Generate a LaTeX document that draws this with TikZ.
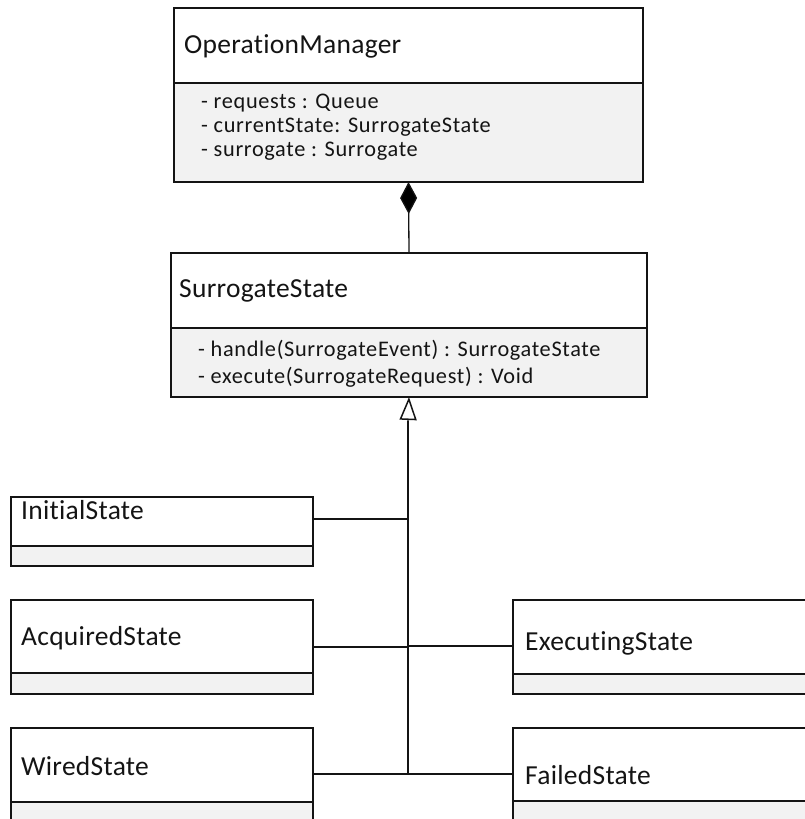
\documentclass[tikz,border=0pt]{standalone}
\usepackage{fontspec}
\setmainfont{Carlito}[Ligatures=NoCommon]
\newfontfamily\classfont{Carlito}[Ligatures=NoCommon, LetterSpace=1]
\newfontfamily\memberfont{Carlito}[Ligatures=NoCommon, LetterSpace=3]
\usetikzlibrary{arrows.meta,calc}
\definecolor{compfill}{HTML}{F2F2F2}
\definecolor{edge}{HTML}{141414}
\tikzset{
  hdr/.style={draw=edge, fill=white, line width=1.2pt, anchor=north west, inner sep=0pt, outer sep=0pt},
  comp/.style={draw=edge, fill=compfill, line width=1.2pt, anchor=north west, inner sep=0pt, outer sep=0pt},
  ttl/.style={anchor=west, inner sep=0pt, text=edge, font=\classfont\fontsize{27.5}{31}\selectfont},
  attr/.style={anchor=west, inner sep=0pt, text=edge, font=\memberfont\fontsize{22.3}{26}\selectfont},
  link/.style={draw=edge, line width=1.3pt},
}
\begin{document}
\begin{tikzpicture}[x=1pt,y=-1pt]
\useasboundingbox (0,0) rectangle (805,819);
\clip (0,0) rectangle (805,819);

% OperationManager
\node[hdr, minimum width=469pt, minimum height=75pt] (om) at (174,8) {};
\node[comp, minimum width=469pt, minimum height=99pt] (omattr) at (174,83) {};
\node[ttl] (omtitle) at (184,46) {OperationManager};
\node[attr] (oma1) at (201,103) {- requests : Queue};
\node[attr] (oma2) at (201,127) {- currentState: SurrogateState};
\node[attr] (oma3) at (201,151) {- surrogate : Surrogate};

% SurrogateState
\node[hdr, minimum width=476pt, minimum height=75pt] (ss) at (171,253) {};
\node[comp, minimum width=476pt, minimum height=69pt] (ssattr) at (171,328) {};
\node[ttl] (sstitle) at (179,291) {SurrogateState};
\node[attr] (ssa1) at (198,350) {- handle(SurrogateEvent) : SurrogateState};
\node[attr] (ssa2) at (198,377) {- execute(SurrogateRequest) : Void};

% concrete states, left column
\node[hdr, minimum width=302pt, minimum height=49pt] (init) at (11,497) {};
\node[comp, minimum width=302pt, minimum height=20pt] (initc) at (11,546) {};
\node[ttl] (inittitle) at (21,510) {InitialState};

\node[hdr, minimum width=302pt, minimum height=73pt] (acq) at (11,600) {};
\node[comp, minimum width=302pt, minimum height=21pt] (acqc) at (11,673) {};
\node[ttl] (acqtitle) at (21,638) {AcquiredState};

\node[hdr, minimum width=302pt, minimum height=74pt] (wir) at (11,728) {};
\node[comp, minimum width=302pt, minimum height=40pt] (wirc) at (11,802) {};
\node[ttl] (wirtitle) at (21,766) {WiredState};

% concrete states, right column
\node[hdr, minimum width=320pt, minimum height=74pt] (exe) at (513,600) {};
\node[comp, minimum width=320pt, minimum height=20pt] (exec) at (513,674) {};
\node[ttl] (exetitle) at (525,643) {ExecutingState};

\node[hdr, minimum width=320pt, minimum height=73pt] (fai) at (513,728) {};
\node[comp, minimum width=320pt, minimum height=40pt] (faic) at (513,801) {};
\node[ttl] (faititle) at (525,775) {FailedState};

% composition
\draw[link, {Diamond[length=32pt,width=17pt,fill=black]}-] (omattr.south) -- (ss.north);

% generalization trunk
\coordinate (jI) at (408,519);
\coordinate (jA) at (408,647);
\coordinate (jE) at (408,646);
\coordinate (jW) at (408,774);
\draw[draw=edge, line width=2.2pt] (jW) -- (408,421);
\draw[link, -{Triangle[open,length=23pt,width=17pt,line width=1.5pt]}] (408,422) -- (ssattr.south);

\draw[link] ($(init.north east)+(0,22)$) -- (jI);
\draw[link] ($(acq.north east)+(0,47)$) -- (jA);
\draw[link] (jE) -- ($(exe.north west)+(0,46)$);
\draw[link] ($(wir.north east)+(0,46)$) -- (jW);
\draw[link] (jW) -- ($(fai.north west)+(0,46)$);
\end{tikzpicture}
\end{document}
